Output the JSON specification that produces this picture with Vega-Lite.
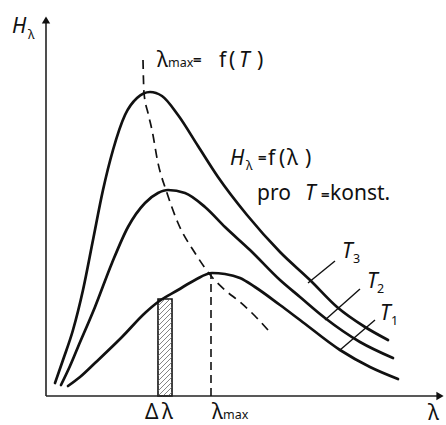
{
  "$schema": "https://vega.github.io/schema/vega-lite/v6.json",
  "width": 446,
  "height": 425,
  "autosize": "none",
  "padding": 0,
  "background": "white",
  "config": {"view": {"stroke": null}, "text": {"font": "Noto Sans", "color": "#111", "baseline": "alphabetic", "align": "left"}},
  "datasets": {
    "curves": [
      {"T": "T3", "lam": 9, "H": 13}, {"T": "T3", "lam": 17, "H": 36}, {"T": "T3", "lam": 27, "H": 66}, {"T": "T3", "lam": 37, "H": 106},
      {"T": "T3", "lam": 47, "H": 156}, {"T": "T3", "lam": 57, "H": 206}, {"T": "T3", "lam": 67, "H": 246}, {"T": "T3", "lam": 79, "H": 281},
      {"T": "T3", "lam": 91, "H": 298}, {"T": "T3", "lam": 104, "H": 304}, {"T": "T3", "lam": 116, "H": 300}, {"T": "T3", "lam": 132, "H": 281},
      {"T": "T3", "lam": 152, "H": 250}, {"T": "T3", "lam": 172, "H": 219}, {"T": "T3", "lam": 201, "H": 181}, {"T": "T3", "lam": 234, "H": 144},
      {"T": "T3", "lam": 264, "H": 116}, {"T": "T3", "lam": 291, "H": 89}, {"T": "T3", "lam": 319, "H": 69}, {"T": "T3", "lam": 342, "H": 56},
      {"T": "T2", "lam": 15, "H": 11}, {"T": "T2", "lam": 24, "H": 30}, {"T": "T2", "lam": 32, "H": 49}, {"T": "T2", "lam": 49, "H": 89},
      {"T": "T2", "lam": 66, "H": 133}, {"T": "T2", "lam": 82, "H": 169}, {"T": "T2", "lam": 99, "H": 193}, {"T": "T2", "lam": 112, "H": 203},
      {"T": "T2", "lam": 122, "H": 206}, {"T": "T2", "lam": 139, "H": 203}, {"T": "T2", "lam": 159, "H": 189}, {"T": "T2", "lam": 179, "H": 169},
      {"T": "T2", "lam": 204, "H": 146}, {"T": "T2", "lam": 234, "H": 116}, {"T": "T2", "lam": 254, "H": 99}, {"T": "T2", "lam": 279, "H": 78},
      {"T": "T2", "lam": 314, "H": 54}, {"T": "T2", "lam": 347, "H": 38},
      {"T": "T1", "lam": 22, "H": 10}, {"T": "T1", "lam": 34, "H": 19}, {"T": "T1", "lam": 49, "H": 33}, {"T": "T1", "lam": 76, "H": 59},
      {"T": "T1", "lam": 99, "H": 83}, {"T": "T1", "lam": 112, "H": 94}, {"T": "T1", "lam": 132, "H": 106}, {"T": "T1", "lam": 149, "H": 116},
      {"T": "T1", "lam": 166, "H": 123}, {"T": "T1", "lam": 179, "H": 122}, {"T": "T1", "lam": 194, "H": 118}, {"T": "T1", "lam": 209, "H": 109},
      {"T": "T1", "lam": 234, "H": 91}, {"T": "T1", "lam": 254, "H": 76}, {"T": "T1", "lam": 294, "H": 46}, {"T": "T1", "lam": 324, "H": 29},
      {"T": "T1", "lam": 352, "H": 17}
    ],
    "wien": [
      {"lam": 97, "H": 336}, {"lam": 98, "H": 303}, {"lam": 102, "H": 283}, {"lam": 106, "H": 266}, {"lam": 112, "H": 233},
      {"lam": 121, "H": 203}, {"lam": 132, "H": 173}, {"lam": 149, "H": 143}, {"lam": 166, "H": 119}, {"lam": 179, "H": 106},
      {"lam": 194, "H": 94}, {"lam": 209, "H": 80}, {"lam": 222, "H": 66}
    ],
    "segments": [
      {"kind": "axis", "lam": 0, "H": 0, "lam2": 396, "H2": 0},
      {"kind": "axis", "lam": 0, "H": 0, "lam2": 0, "H2": 378},
      {"kind": "leader", "lam": 262, "H": 113, "lam2": 289, "H2": 135},
      {"kind": "leader", "lam": 279, "H": 76, "lam2": 314, "H2": 107},
      {"kind": "leader", "lam": 294, "H": 46, "lam2": 329, "H2": 76}
    ],
    "lammax": [{"lam": 165, "H": 0, "H2": 122}],
    "band": [{"lam": 112, "lam2": 126, "H": 0, "H2": 97}],
    "hatch": [
      {"lam": 122, "H": 0, "lam2": 126, "H2": 4},
      {"lam": 117, "H": 0, "lam2": 126, "H2": 9},
      {"lam": 112, "H": 0, "lam2": 126, "H2": 14},
      {"lam": 112, "H": 5, "lam2": 126, "H2": 19},
      {"lam": 112, "H": 10, "lam2": 126, "H2": 24},
      {"lam": 112, "H": 15, "lam2": 126, "H2": 29},
      {"lam": 112, "H": 20, "lam2": 126, "H2": 34},
      {"lam": 112, "H": 25, "lam2": 126, "H2": 39},
      {"lam": 112, "H": 30, "lam2": 126, "H2": 44},
      {"lam": 112, "H": 35, "lam2": 126, "H2": 49},
      {"lam": 112, "H": 40, "lam2": 126, "H2": 54},
      {"lam": 112, "H": 45, "lam2": 126, "H2": 59},
      {"lam": 112, "H": 50, "lam2": 126, "H2": 64},
      {"lam": 112, "H": 55, "lam2": 126, "H2": 69},
      {"lam": 112, "H": 60, "lam2": 126, "H2": 74},
      {"lam": 112, "H": 65, "lam2": 126, "H2": 79},
      {"lam": 112, "H": 70, "lam2": 126, "H2": 84},
      {"lam": 112, "H": 75, "lam2": 126, "H2": 89},
      {"lam": 112, "H": 80, "lam2": 126, "H2": 94},
      {"lam": 112, "H": 85, "lam2": 124, "H2": 97},
      {"lam": 112, "H": 90, "lam2": 119, "H2": 97}
    ],
    "arrows": [
      {"dir": "right", "lam": 394, "H": 0},
      {"dir": "up", "lam": 0, "H": 376}
    ],
    "labels": [
      {"kind": "main", "txt": "λ", "lam": 111, "H": 329},
      {"kind": "sub", "txt": "max", "lam": 122, "H": 329},
      {"kind": "eq", "txt": "=", "lam": 147, "H": 331},
      {"kind": "main", "txt": "f", "lam": 173, "H": 329},
      {"kind": "main", "txt": "(", "lam": 183, "H": 329},
      {"kind": "it", "txt": "T", "lam": 193, "H": 329},
      {"kind": "main", "txt": ")", "lam": 211, "H": 329},
      {"kind": "it", "txt": "H", "lam": 184, "H": 231},
      {"kind": "sub", "txt": "λ", "lam": 200, "H": 226},
      {"kind": "eq", "txt": "=", "lam": 212, "H": 233},
      {"kind": "main", "txt": "f", "lam": 222, "H": 231},
      {"kind": "main", "txt": "(", "lam": 233, "H": 231},
      {"kind": "main", "txt": "λ", "lam": 241, "H": 231},
      {"kind": "main", "txt": ")", "lam": 259, "H": 231},
      {"kind": "main", "txt": "pro", "lam": 211, "H": 196},
      {"kind": "it", "txt": "T", "lam": 259, "H": 196},
      {"kind": "eq", "txt": "=", "lam": 275, "H": 196},
      {"kind": "main", "txt": "konst.", "lam": 284, "H": 196},
      {"kind": "it", "txt": "T", "lam": 296, "H": 138},
      {"kind": "sub", "txt": "3", "lam": 307, "H": 133},
      {"kind": "it", "txt": "T", "lam": 321, "H": 108},
      {"kind": "sub", "txt": "2", "lam": 331, "H": 103},
      {"kind": "it", "txt": "T", "lam": 334, "H": 76},
      {"kind": "sub", "txt": "1", "lam": 345, "H": 71},
      {"kind": "main", "txt": "Δ", "lam": 99, "H": -23},
      {"kind": "main", "txt": "λ", "lam": 116, "H": -23},
      {"kind": "main", "txt": "λ", "lam": 166, "H": -23},
      {"kind": "sub", "txt": "max", "lam": 177, "H": -23},
      {"kind": "main", "txt": "λ", "lam": 382, "H": -24},
      {"kind": "it", "txt": "H", "lam": -34, "H": 363},
      {"kind": "sub", "txt": "λ", "lam": -18, "H": 357}
    ]
  },
  "encoding": {
    "x": {"field": "lam", "type": "quantitative", "scale": {"domain": [-46, 400]}, "axis": null},
    "y": {"field": "H", "type": "quantitative", "scale": {"domain": [-29, 396]}, "axis": null}
  },
  "layer": [
    {
      "data": {"name": "band"},
      "mark": {"type": "rect", "fill": "white", "stroke": "#111", "strokeWidth": 1.6},
      "encoding": {"x2": {"field": "lam2"}, "y2": {"field": "H2"}}
    },
    {
      "data": {"name": "hatch"},
      "mark": {"type": "rule", "color": "#666", "strokeWidth": 0.8},
      "encoding": {"x2": {"field": "lam2"}, "y2": {"field": "H2"}}
    },
    {
      "data": {"name": "segments"},
      "transform": [{"filter": "datum.kind === 'axis'"}],
      "mark": {"type": "rule", "color": "#222", "strokeWidth": 1.6},
      "encoding": {"x2": {"field": "lam2"}, "y2": {"field": "H2"}}
    },
    {
      "data": {"name": "segments"},
      "transform": [{"filter": "datum.kind === 'leader'"}],
      "mark": {"type": "rule", "color": "#111", "strokeWidth": 1.4},
      "encoding": {"x2": {"field": "lam2"}, "y2": {"field": "H2"}}
    },
    {
      "data": {"name": "arrows"},
      "transform": [{"filter": "datum.dir === 'right'"}],
      "mark": {"type": "point", "shape": "triangle-right", "filled": true, "color": "#111", "size": 70, "opacity": 1}
    },
    {
      "data": {"name": "arrows"},
      "transform": [{"filter": "datum.dir === 'up'"}],
      "mark": {"type": "point", "shape": "triangle-up", "filled": true, "color": "#111", "size": 70, "opacity": 1}
    },
    {
      "data": {"name": "lammax"},
      "mark": {"type": "rule", "color": "#111", "strokeWidth": 1.6, "strokeDash": [8, 5]},
      "encoding": {"y2": {"field": "H2"}}
    },
    {
      "data": {"name": "wien"},
      "mark": {"type": "line", "color": "#111", "strokeWidth": 1.7, "strokeDash": [9, 6], "interpolate": "monotone"},
      "encoding": {}
    },
    {
      "data": {"name": "curves"},
      "mark": {"type": "line", "color": "#111", "strokeWidth": 2.7, "interpolate": "monotone", "strokeCap": "round"},
      "encoding": {"detail": {"field": "T", "type": "nominal"}}
    },
    {
      "data": {"name": "labels"},
      "transform": [{"filter": "datum.kind === 'main'"}],
      "mark": {"type": "text", "fontSize": 21},
      "encoding": {"text": {"field": "txt"}}
    },
    {
      "data": {"name": "labels"},
      "transform": [{"filter": "datum.kind === 'it'"}],
      "mark": {"type": "text", "fontSize": 21, "fontStyle": "italic"},
      "encoding": {"text": {"field": "txt"}}
    },
    {
      "data": {"name": "labels"},
      "transform": [{"filter": "datum.kind === 'sub'"}],
      "mark": {"type": "text", "fontSize": 12.5},
      "encoding": {"text": {"field": "txt"}}
    },
    {
      "data": {"name": "labels"},
      "transform": [{"filter": "datum.kind === 'eq'"}],
      "mark": {"type": "text", "fontSize": 15, "fontWeight": "bold"},
      "encoding": {"text": {"field": "txt"}}
    }
  ]
}
